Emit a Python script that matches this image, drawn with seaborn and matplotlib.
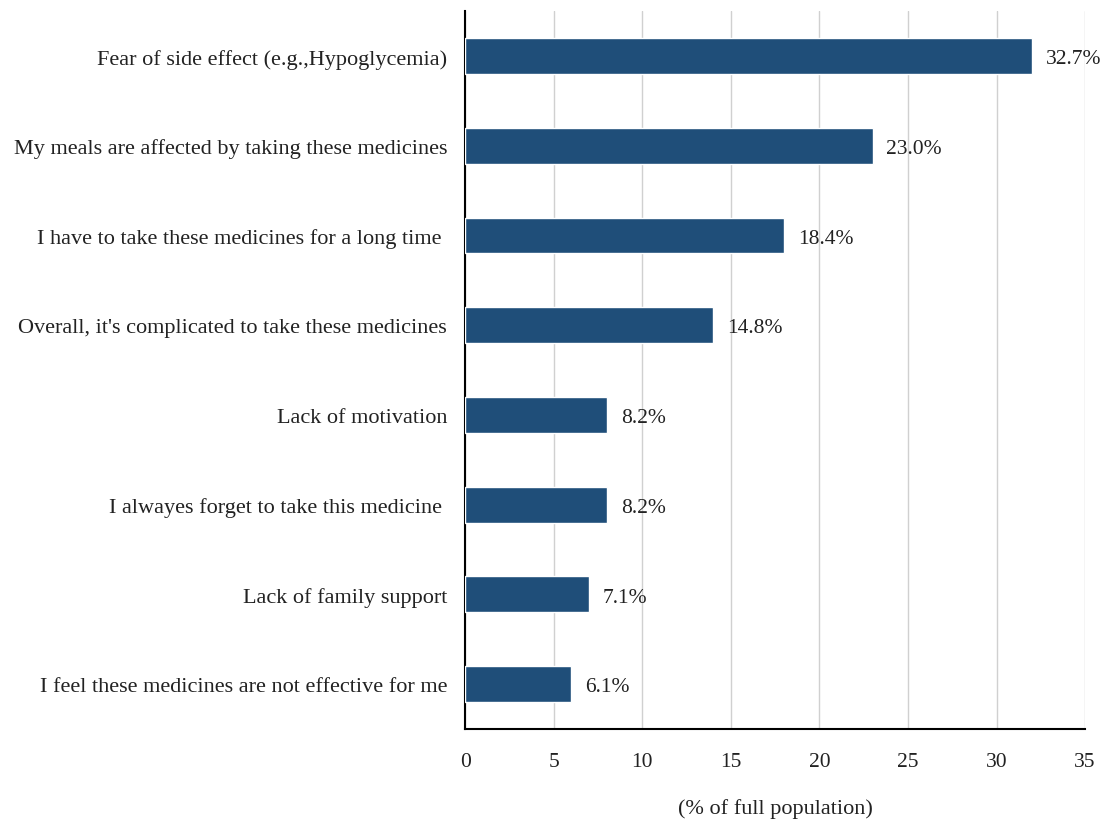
import pandas as pd
import matplotlib.pyplot as plt
import seaborn as sns

reasons = ["Fear of side effect (e.g.,Hypoglycemia)",
           "My meals are affected by taking these medicines",
           "I have to take these medicines for a long time ",
           "Overall, it's complicated to take these medicines",
           "Lack of motivation",
           "I alwayes forget to take this medicine ",
           "Lack of family support",
           "I feel these medicines are not effective for me"]
bar_values = [32, 23, 18, 14, 8, 8, 7, 6]
bar_labels = ["32.7%", "23.0%", "18.4%", "14.8%", "8.2%", "8.2%", "7.1%", "6.1%"]

df = pd.DataFrame({'reason': reasons, 'value': bar_values})

sns.set_style('white')
plt.rcParams['font.family'] = ['Liberation Serif', 'DejaVu Serif']

fig = plt.figure(figsize=(11.05, 8.2), dpi=100)
ax = fig.add_axes([0.421, 0.110, 0.561, 0.875])

sns.barplot(data=df, x='value', y='reason', orient='h', color='#1f4e79',
            saturation=1, width=0.4, ax=ax, zorder=3)

for i, (v, lab) in enumerate(zip(bar_values, bar_labels)):
    ax.annotate(lab, (v, i), xytext=(10, -2), textcoords='offset points',
                va='center', ha='left', fontsize=15.5, color='#222222')

ax.set_xlim(0, 35)
ax.set_ylim(7.5, -0.5)
ax.set_xticks(range(0, 36, 5))
ax.xaxis.grid(True, color='#d0d0d0', linewidth=1, zorder=0)
ax.set_axisbelow(True)
ax.set_ylabel('')
ax.set_xlabel('(% of full population)', fontsize=16, labelpad=19, color='#222222')
ax.tick_params(axis='both', labelsize=15.5, colors='#222222', length=0)
ax.tick_params(axis='y', labelsize=16, pad=13)
ax.tick_params(axis='x', pad=17)

sns.despine(ax=ax, top=True, right=True)
for s in ['left', 'bottom']:
    ax.spines[s].set_color('black')
    ax.spines[s].set_linewidth(1.5)

fig.savefig('out.png', dpi=100)
